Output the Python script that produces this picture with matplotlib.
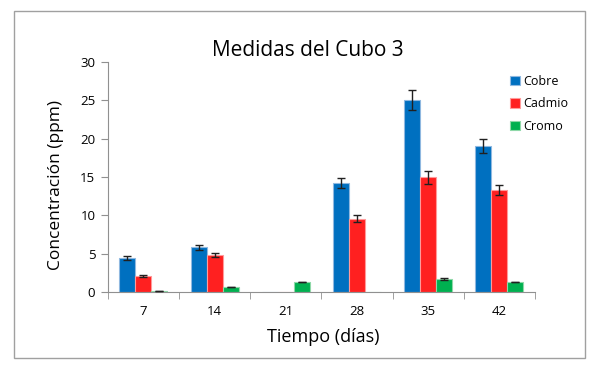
import numpy as np
import matplotlib.pyplot as plt
from matplotlib.patches import Rectangle

days = ["7", "14", "21", "28", "35", "42"]
series = ["Cobre", "Cadmio", "Cromo"]
cobre = [4.5, 5.85, 0.0, 14.2, 25.05, 19.05]
cobre_err = [0.26, 0.35, 0.0, 0.65, 1.3, 0.95]
cadmio = [2.1, 4.78, 0.0, 9.56, 14.95, 13.26]
cadmio_err = [0.17, 0.26, 0.0, 0.48, 0.8, 0.65]
cromo = [0.15, 0.65, 1.3, 0.0, 1.65, 1.3]
cromo_err = [0.04, 0.06, 0.05, 0.0, 0.12, 0.05]

colors = ["#0070C0", "#FF2020", "#00B050"]
edges = ["#8fb8e0", "#ff9a9a", "#8fd8a8"]

plt.rcParams['font.family'] = ['Open Sans', 'DejaVu Sans']

fig = plt.figure(figsize=(5.99, 3.72), dpi=100)
ax = fig.add_axes([0.180, 0.215, 0.713, 0.618])

# outer border
fig.patches.append(Rectangle((14/599, 1-358/372), (585-14)/599, (358-11)/372,
                             transform=fig.transFigure, fill=False,
                             edgecolor="#a0a0a0", linewidth=1))

x = np.arange(len(days))
w = 0.225
vals = [cobre, cadmio, cromo]
errs = [cobre_err, cadmio_err, cromo_err]
for i, (v, e) in enumerate(zip(vals, errs)):
    pos = x + (i - 1) * w
    ax.bar(pos, v, width=w, color=colors[i], edgecolor=edges[i],
           linewidth=0.8, label=series[i], zorder=2)
    mask = np.array(v) > 0
    ax.errorbar(pos[mask], np.array(v)[mask], yerr=np.array(e)[mask],
                fmt='none', ecolor='#202020', elinewidth=1, capsize=3,
                capthick=1, zorder=3)

ax.set_xlim(-0.5, len(days) - 0.5)
ax.set_ylim(0, 30)
ax.set_yticks(range(0, 31, 5))
ax.set_xticks(x)
ax.set_xticklabels(days)
ax.set_xticks(np.arange(-0.5, len(days)), minor=True)
ax.tick_params(axis='x', which='major', length=0, pad=9, labelsize=9.5)
ax.tick_params(axis='x', which='minor', length=5, color='#909090')
ax.tick_params(axis='y', length=5, color='#909090', labelsize=9.5, pad=4)

for s in ['top', 'right']:
    ax.spines[s].set_visible(False)
for s in ['left', 'bottom']:
    ax.spines[s].set_color('#909090')

fig.text(308/599, 1-50/372, "Medidas del Cubo 3", ha='center', va='center',
         fontsize=15)
ax.set_xlabel("Tiempo (días)", fontsize=13)
ax.xaxis.set_label_coords(0.505, -0.155)
ax.set_ylabel("Concentración (ppm)", fontsize=12.5)
ax.yaxis.set_label_coords(-0.102, 0.465)

leg = ax.legend(loc='upper left', bbox_to_anchor=(505/599, 1-70/372),
                bbox_transform=fig.transFigure, frameon=False, fontsize=9,
                handlelength=0.8, handleheight=0.8, handletextpad=0.3,
                labelspacing=0.75, borderaxespad=0)

fig.savefig("out.png", dpi=100)
